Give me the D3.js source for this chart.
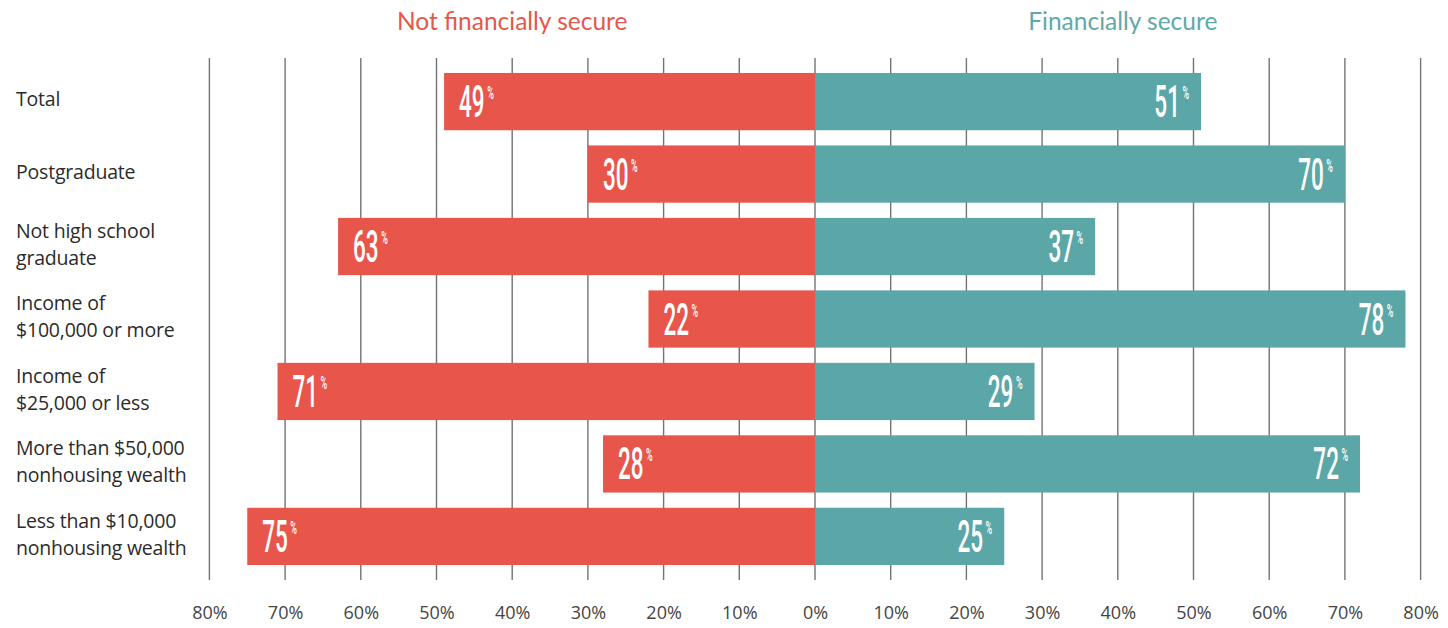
<!DOCTYPE html>
<html>
<head>
<meta charset="utf-8">
<script src="https://cdn.jsdelivr.net/npm/d3@7"></script>
<style>
  html, body { margin: 0; padding: 0; background: #fff; }
  svg { display: block; }
</style>
</head>
<body>
<svg id="chart" width="1448" height="628"></svg>
<script>
// Survey groups, top to bottom
const categories = [
  ["Total"],
  ["Postgraduate"],
  ["Not high school", "graduate"],
  ["Income of", "$100,000 or more"],
  ["Income of", "$25,000 or less"],
  ["More than $50,000", "nonhousing wealth"],
  ["Less than $10,000", "nonhousing wealth"]
];
const notSecure = [49, 30, 63, 22, 71, 28, 75];
const secure    = [51, 70, 37, 78, 29, 72, 25];
const tickValues = [80, 70, 60, 50, 40, 30, 20, 10, 0];
const seriesTitles = ["Not financially secure", "Financially secure"];

const RED = "#e8554a", TEAL = "#5ba6a7";

const svg = d3.select("#chart");
const x0 = 815, pxPer10 = 75.7;
const xLeft = d3.scaleLinear().domain([0, 80]).range([x0, x0 - 8 * pxPer10]);
const xRight = d3.scaleLinear().domain([0, 80]).range([x0, x0 + 8 * pxPer10]);
const y = d3.scaleBand().domain(d3.range(categories.length)).range([65, 573]).paddingInner(0.21).paddingOuter(0.11);

// Vertical grid lines
const gridTop = 58, gridBottom = 580;
const gridVals = [];
tickValues.forEach(v => gridVals.push(xLeft(v)));
tickValues.filter(v => v > 0).forEach(v => gridVals.push(xRight(v)));
svg.append("g").selectAll("line").data(gridVals).join("line")
  .attr("x1", d => d).attr("x2", d => d)
  .attr("y1", gridTop).attr("y2", gridBottom)
  .attr("stroke", "#737373").attr("stroke-width", 1.4);

// Bottom axes (labels only)
const axisL = d3.axisBottom(xLeft).tickValues(tickValues).tickFormat(d => d + "%").tickSize(0);
const axisR = d3.axisBottom(xRight).tickValues(tickValues.filter(v => v > 0)).tickFormat(d => d + "%").tickSize(0);
[axisL, axisR].forEach(ax => {
  const g = svg.append("g").attr("transform", `translate(0,${gridBottom + 23})`).call(ax);
  g.select(".domain").remove();
  g.selectAll("text")
    .attr("font-family", "'Open Sans', sans-serif")
    .attr("font-size", 18).attr("fill", "#444").attr("dy", "0.71em");
});

// Bars
const rows = svg.append("g").selectAll("g").data(categories.map((c, i) => i)).join("g");
rows.append("rect")
  .attr("x", i => xLeft(notSecure[i])).attr("y", i => y(i))
  .attr("width", i => x0 - xLeft(notSecure[i])).attr("height", y.bandwidth())
  .attr("fill", RED);
rows.append("rect")
  .attr("x", x0).attr("y", i => y(i))
  .attr("width", i => xRight(secure[i]) - x0).attr("height", y.bandwidth())
  .attr("fill", TEAL);

// Value labels in condensed figures with a small raised percent sign
function valueLabel(g, value, anchor) {
  const t = g.append("text")
    .attr("text-anchor", anchor)
    .attr("font-family", "Roboto, sans-serif")
    .attr("font-weight", 500)
    .attr("font-size", 45)
    .attr("fill", "#fff")
    .attr("transform", "scale(0.5,1)");
  t.append("tspan").text(value);
  t.append("tspan").attr("font-size", 18).attr("dy", -18).attr("dx", 5).text("%");
}
rows.each(function(i) {
  const cy = y(i) + y.bandwidth() / 2;
  const gl = d3.select(this).append("g").attr("transform", `translate(${xLeft(notSecure[i]) + 15},${cy + 15.5})`);
  valueLabel(gl, notSecure[i], "start");
  const gr = d3.select(this).append("g").attr("transform", `translate(${xRight(secure[i]) - 12},${cy + 15.5})`);
  valueLabel(gr, secure[i], "end");
});

// Category labels
rows.append("text")
  .attr("font-family", "'Open Sans', sans-serif")
  .attr("font-size", 19.5).attr("fill", "#2b2b2b")
  .attr("letter-spacing", "-0.2")
  .each(function(i) {
    const lines = categories[i];
    const cy = y(i) + y.bandwidth() / 2 - 2;
    const start = cy - (lines.length - 1) * 13.5;
    d3.select(this).selectAll("tspan").data(lines).join("tspan")
      .attr("x", 16).attr("y", (d, k) => start + k * 27).attr("dy", "0.35em").text(d => d);
  });

// Series titles
svg.append("text").attr("x", (xLeft(80) + x0) / 2 + 0).attr("y", 30)
  .attr("text-anchor", "middle").attr("font-family", "Lato, sans-serif").attr("font-size", 24.5)
  .attr("fill", "#e5574c").text(seriesTitles[0]);
svg.append("text").attr("x", (xRight(80) + x0) / 2 + 5).attr("y", 30)
  .attr("text-anchor", "middle").attr("font-family", "Lato, sans-serif").attr("font-size", 24.5)
  .attr("fill", "#5fa9a9").text(seriesTitles[1]);
</script>
</body>
</html>
